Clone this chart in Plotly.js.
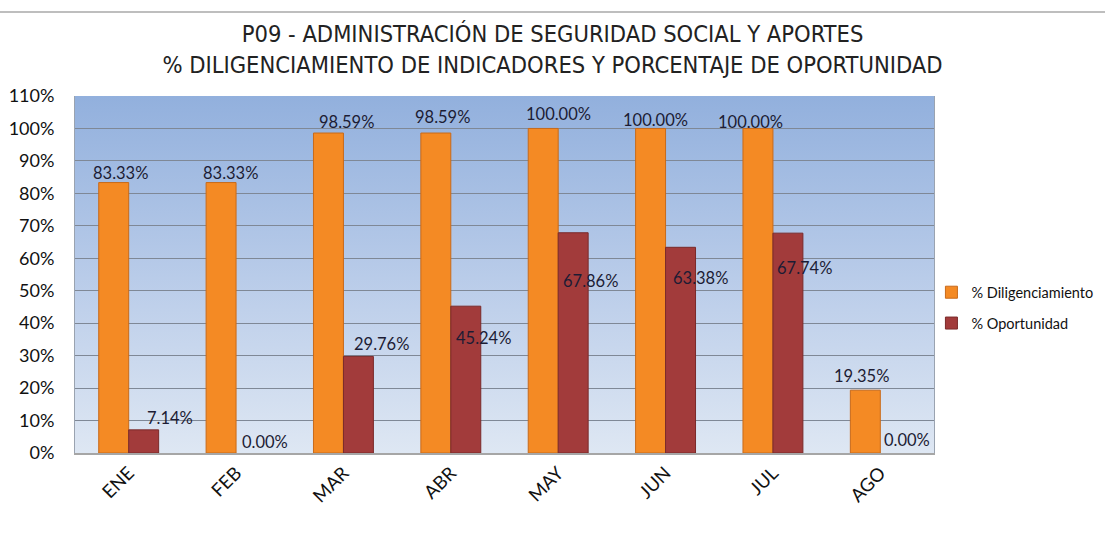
<!DOCTYPE html>
<html>
<head>
<meta charset="utf-8">
<script src="https://cdn.plot.ly/plotly-3.0.1.min.js"></script>
<style>
html,body{margin:0;padding:0;background:#fff;}
#chart{width:1105px;height:533px;}
</style>
</head>
<body>
<div id="chart"></div>
<script>
// ---- data ----
const months = ["ENE","FEB","MAR","ABR","MAY","JUN","JUL","AGO"];
const diligenciamiento = [83.33, 83.33, 98.59, 98.59, 100.00, 100.00, 100.00, 19.35];
const oportunidad = [7.14, 0.00, 29.76, 45.24, 67.86, 63.38, 67.74, 0.00];
const seriesNames = ["% Diligenciamiento", "% Oportunidad"];
const titleLines = ["P09 - ADMINISTRACIÓN DE SEGURIDAD SOCIAL Y APORTES",
                    "% DILIGENCIAMIENTO DE INDICADORES Y PORCENTAJE DE OPORTUNIDAD"];

// ---- label placement offsets (px, relative to bar centre / top) ----
const dilShiftX = [7, 9, 18, 7, 15, 5, -7, -4];
const dilShiftY = [10, 10, 11, 16, 14, 8, 6, 14];
const opoShiftX = [26, 14, 23, 18, 17, 20, 17, 12];
const opoShiftY = [12, 11, 12, -32, -48, -31, -35, 13];

const labelFont = {family: "Lato, 'Open Sans', sans-serif", size: 16.5, color: "#1c1c34"};

const traces = [
  {type: "bar", name: seriesNames[0], x: months, y: diligenciamiento,
   marker: {color: "#F48A24", line: {color: "#C86A1A", width: diligenciamiento.map(v => v > 0 ? 1 : 0)}},
   legendgroup: "a", hoverinfo: "skip"},
  {type: "bar", name: seriesNames[1], x: months, y: oportunidad,
   marker: {color: "#A23B3B", line: {color: "#7A2A2A", width: oportunidad.map(v => v > 0 ? 1 : 0)}},
   legendgroup: "b", hoverinfo: "skip"}
];

const annotations = [];
months.forEach((m, i) => {
  annotations.push({x: m, y: diligenciamiento[i], xref: "x", yref: "y",
    text: diligenciamiento[i].toFixed(2) + "%", showarrow: false,
    xshift: -15 + dilShiftX[i], yshift: dilShiftY[i], xanchor: "center", yanchor: "middle",
    font: labelFont});
  annotations.push({x: m, y: oportunidad[i], xref: "x", yref: "y",
    text: oportunidad[i].toFixed(2) + "%", showarrow: false,
    xshift: 15 + opoShiftX[i], yshift: opoShiftY[i], xanchor: "center", yanchor: "middle",
    font: labelFont});
});

const bgSvg = '<svg xmlns="http://www.w3.org/2000/svg" width="100" height="100" preserveAspectRatio="none">' +
  '<defs><linearGradient id="g" x1="0" y1="0" x2="0" y2="1">' +
  '<stop offset="0" stop-color="#92B0DD"/><stop offset="0.55" stop-color="#BCCEEA"/><stop offset="1" stop-color="#DEE7F3"/>' +
  '</linearGradient></defs><rect width="100" height="100" fill="url(#g)"/></svg>';
const bgUri = "data:image/svg+xml;charset=utf-8," + encodeURIComponent(bgSvg);

const layout = {
  width: 1105, height: 533,
  margin: {l: 75, r: 171, t: 96, b: 80, autoexpand: false},
  paper_bgcolor: "#ffffff",
  plot_bgcolor: "rgba(0,0,0,0)",
  title: {
    text: titleLines.join("<br>"),
    x: 0.5, xref: "container", xanchor: "center",
    y: 1 - 42/533, yref: "container", yanchor: "top",
    font: {family: "'DejaVu Sans Condensed', 'Liberation Sans', sans-serif", size: 23.5, color: "#222"}
  },
  barmode: "group",
  bargap: 0.442,
  bargroupgap: 0,
  xaxis: {
    type: "category",
    tickangle: -45,
    tickfont: {family: "Lato, 'Open Sans', sans-serif", size: 18.5, color: "#111"},
    showline: true, linecolor: "#A6A6A6", linewidth: 2,
    mirror: false, showgrid: false, ticks: "", ticklabelstandoff: 0,
    fixedrange: true
  },
  yaxis: {
    range: [0, 110], dtick: 10, tick0: 0, ticksuffix: "%",
    tickfont: {family: "Lato, 'Open Sans', sans-serif", size: 18, color: "#111"},
    showgrid: true, gridcolor: "#7F8896", gridwidth: 1,
    showline: true, linecolor: "#9AA3B0", linewidth: 1, mirror: true,
    zeroline: false, ticks: "", ticklabelstandoff: 16,
    fixedrange: true
  },
  legend: {
    x: 0.997, xanchor: "left", y: 0.495, yanchor: "top",
    font: {family: "Lato, 'Open Sans', sans-serif", size: 14.5, color: "#111"},
    tracegroupgap: 9, bgcolor: "rgba(0,0,0,0)", itemwidth: 30
  },
  showlegend: true,
  annotations: annotations,
  images: [{source: bgUri, xref: "paper", yref: "paper", x: 0, y: 1, sizex: 1, sizey: 1,
            sizing: "stretch", xanchor: "left", yanchor: "top", layer: "below"}],
  shapes: [{type: "line", xref: "paper", yref: "paper", x0: -75/859, x1: 1030/859,
            y0: (453-12)/357, y1: (453-12)/357, line: {color: "#A8A8A8", width: 1.5}}]
};

Plotly.newPlot("chart", traces, layout, {displayModeBar: false, staticPlot: true});
</script>
</body>
</html>
